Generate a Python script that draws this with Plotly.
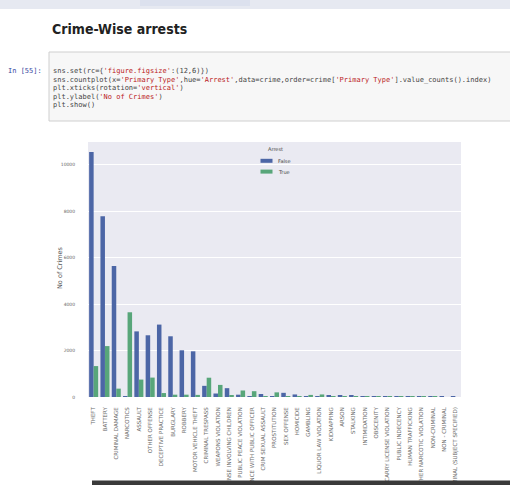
import plotly.graph_objects as go

# ---------------- data ----------------
categories = [
    "THEFT", "BATTERY", "CRIMINAL DAMAGE", "NARCOTICS", "ASSAULT", "OTHER OFFENSE",
    "DECEPTIVE PRACTICE", "BURGLARY", "ROBBERY", "MOTOR VEHICLE THEFT",
    "CRIMINAL TRESPASS", "WEAPONS VIOLATION", "OFFENSE INVOLVING CHILDREN",
    "PUBLIC PEACE VIOLATION", "INTERFERENCE WITH PUBLIC OFFICER",
    "CRIM SEXUAL ASSAULT", "PROSTITUTION", "SEX OFFENSE", "HOMICIDE", "GAMBLING",
    "LIQUOR LAW VIOLATION", "KIDNAPPING", "ARSON", "STALKING", "INTIMIDATION",
    "OBSCENITY", "CONCEALED CARRY LICENSE VIOLATION", "PUBLIC INDECENCY",
    "HUMAN TRAFFICKING", "OTHER NARCOTIC VIOLATION", "NON-CRIMINAL",
    "NON - CRIMINAL", "NON-CRIMINAL (SUBJECT SPECIFIED)",
]
arrest_false = [10540, 7775, 5637, 30, 2823, 2655, 3115, 2612, 2010, 1966,
                480, 150, 380, 100, 30, 130, 5, 180, 110, 3,
                5, 70, 45, 55, 40, 10, 2, 1, 8, 1, 4, 2, 1]
arrest_true = [1330, 2190, 360, 3645, 750, 835, 170, 100, 100, 90,
               830, 520, 70, 280, 250, 15, 200, 40, 20, 90,
               110, 8, 3, 6, 5, 12, 20, 10, 1, 2, 1, 0, 0]
y_ticks = [0, 2000, 4000, 6000, 8000, 10000]
hue_labels = ["False", "True"]

title_text = "Crime-Wise arrests"
code_lines = [
    "sns.set(rc={'figure.figsize':(12,6)})",
    "sns.countplot(x='Primary Type',hue='Arrest',data=crime,order=crime['Primary Type'].value_counts().index)",
    "plt.xticks(rotation='vertical')",
    "plt.ylabel('No of Crimes')",
    "plt.show()",
]

# ---------------- geometry ----------------
W, H = 510, 485
L, R, T, B = 88, 49, 142, 88
PW, PH = W - L - R, H - T - B

def px(x):
    return (x - L) / PW

def py(y):
    return (T + PH - y) / PH

BLUE = "#4C66A6"
GREEN = "#58A67A"

fig = go.Figure()
fig.add_trace(go.Bar(x=categories, y=arrest_false, name=hue_labels[0],
                     marker=dict(color=BLUE, line=dict(width=0))))
fig.add_trace(go.Bar(x=categories, y=arrest_true, name=hue_labels[1],
                     marker=dict(color=GREEN, line=dict(width=0))))

shapes = []
annotations = []

# top faded banner
shapes.append(dict(type="rect", xref="paper", yref="paper", x0=px(0), x1=px(W),
                   y0=py(9), y1=py(0), fillcolor="#E6E9F1", line=dict(width=0), layer="below"))
shapes.append(dict(type="rect", xref="paper", yref="paper", x0=px(140), x1=px(250),
                   y0=py(6), y1=py(0), fillcolor="#DCE1EE", line=dict(width=0), layer="below"))

# title
annotations.append(dict(text="<b>" + title_text + "</b>", xref="paper", yref="paper",
                        x=px(50), y=py(29), xanchor="left", yanchor="middle", showarrow=False,
                        font=dict(family="Liberation Sans Narrow, DejaVu Sans Condensed, Arial Narrow, sans-serif",
                                  size=14, color="#222222")))

# code cell
shapes.append(dict(type="rect", xref="paper", yref="paper", x0=px(49), x1=px(W + 2),
                   y0=py(121), y1=py(52), fillcolor="#F7F7F7",
                   line=dict(color="#CFCFCF", width=1), layer="below"))
annotations.append(dict(text="In [55]:", xref="paper", yref="paper", x=px(6), y=py(71),
                        xanchor="left", yanchor="middle", showarrow=False,
                        font=dict(family="DejaVu Sans Mono, monospace", size=7, color="#3A4A9F")))

def colorize(line):
    out = []
    in_str = False
    buf = ""
    for ch in line:
        if ch == "'":
            if not in_str:
                out.append(buf)
                buf = "'"
                in_str = True
            else:
                buf += "'"
                out.append('<span style="color:#BA2121">' + buf + "</span>")
                buf = ""
                in_str = False
        else:
            buf += ch
    out.append(buf)
    return "".join(out)

for i, line in enumerate(code_lines):
    annotations.append(dict(text=colorize(line), xref="paper", yref="paper",
                            x=px(51), y=py(71 + 8.6 * i), xanchor="left", yanchor="middle",
                            showarrow=False,
                            font=dict(family="DejaVu Sans Mono, monospace", size=7, color="#444444")))

# y axis label
annotations.append(dict(text="No of Crimes", xref="paper", yref="paper", x=px(60), y=py(268),
                        xanchor="center", yanchor="middle", textangle=-90, showarrow=False,
                        font=dict(family="DejaVu Sans, sans-serif", size=6.5, color="#555555")))

# manual legend (seaborn style)
annotations.append(dict(text="Arrest", xref="paper", yref="paper", x=px(275), y=py(149),
                        xanchor="center", yanchor="middle", showarrow=False,
                        font=dict(family="DejaVu Sans, sans-serif", size=5, color="#444444")))
for k, (lab, col) in enumerate(zip(hue_labels, [BLUE, GREEN])):
    yc = 160.8 + 10.8 * k
    shapes.append(dict(type="rect", xref="paper", yref="paper", x0=px(260.5), x1=px(272.5),
                       y0=py(yc + 2), y1=py(yc - 2), fillcolor=col, line=dict(width=0)))
    annotations.append(dict(text=lab, xref="paper", yref="paper", x=px(276), y=py(yc),
                            xanchor="left", yanchor="middle", showarrow=False,
                            font=dict(family="DejaVu Sans, sans-serif", size=5, color="#444444")))

# dark bar at bottom of screenshot
shapes.append(dict(type="rect", xref="paper", yref="paper", x0=px(92), x1=px(W),
                   y0=py(H), y1=py(480.5), fillcolor="#3A3A3A", line=dict(width=0), layer="above"))

fig.update_layout(
    width=W, height=H,
    margin=dict(l=L, r=R, t=T, b=B, pad=0),
    paper_bgcolor="white",
    plot_bgcolor="#EAEAF2",
    barmode="group", bargap=0.2, bargroupgap=0,
    showlegend=False,
    shapes=shapes,
    annotations=annotations,
    font=dict(family="DejaVu Sans, sans-serif"),
)
fig.update_xaxes(
    type="category", categoryorder="array", categoryarray=categories,
    tickangle=-90, tickfont=dict(size=5.5, color="#6E6E6E"),
    ticks="outside", ticklen=7, tickcolor="rgba(0,0,0,0)",
    showgrid=False, zeroline=False, showline=False, automargin=False,
)
fig.update_yaxes(
    range=[0, 10970], tickvals=y_ticks, ticktext=[str(v) for v in y_ticks],
    tickfont=dict(size=4.5, color="#666666"),
    ticks="outside", ticklen=11, tickcolor="rgba(0,0,0,0)",
    showgrid=True, gridcolor="white", gridwidth=1.3,
    zeroline=False, showline=False, automargin=False,
)

fig.write_html("out.html", config={"displayModeBar": False},
               post_script="document.body.style.margin='0';document.body.style.overflow='hidden';")
